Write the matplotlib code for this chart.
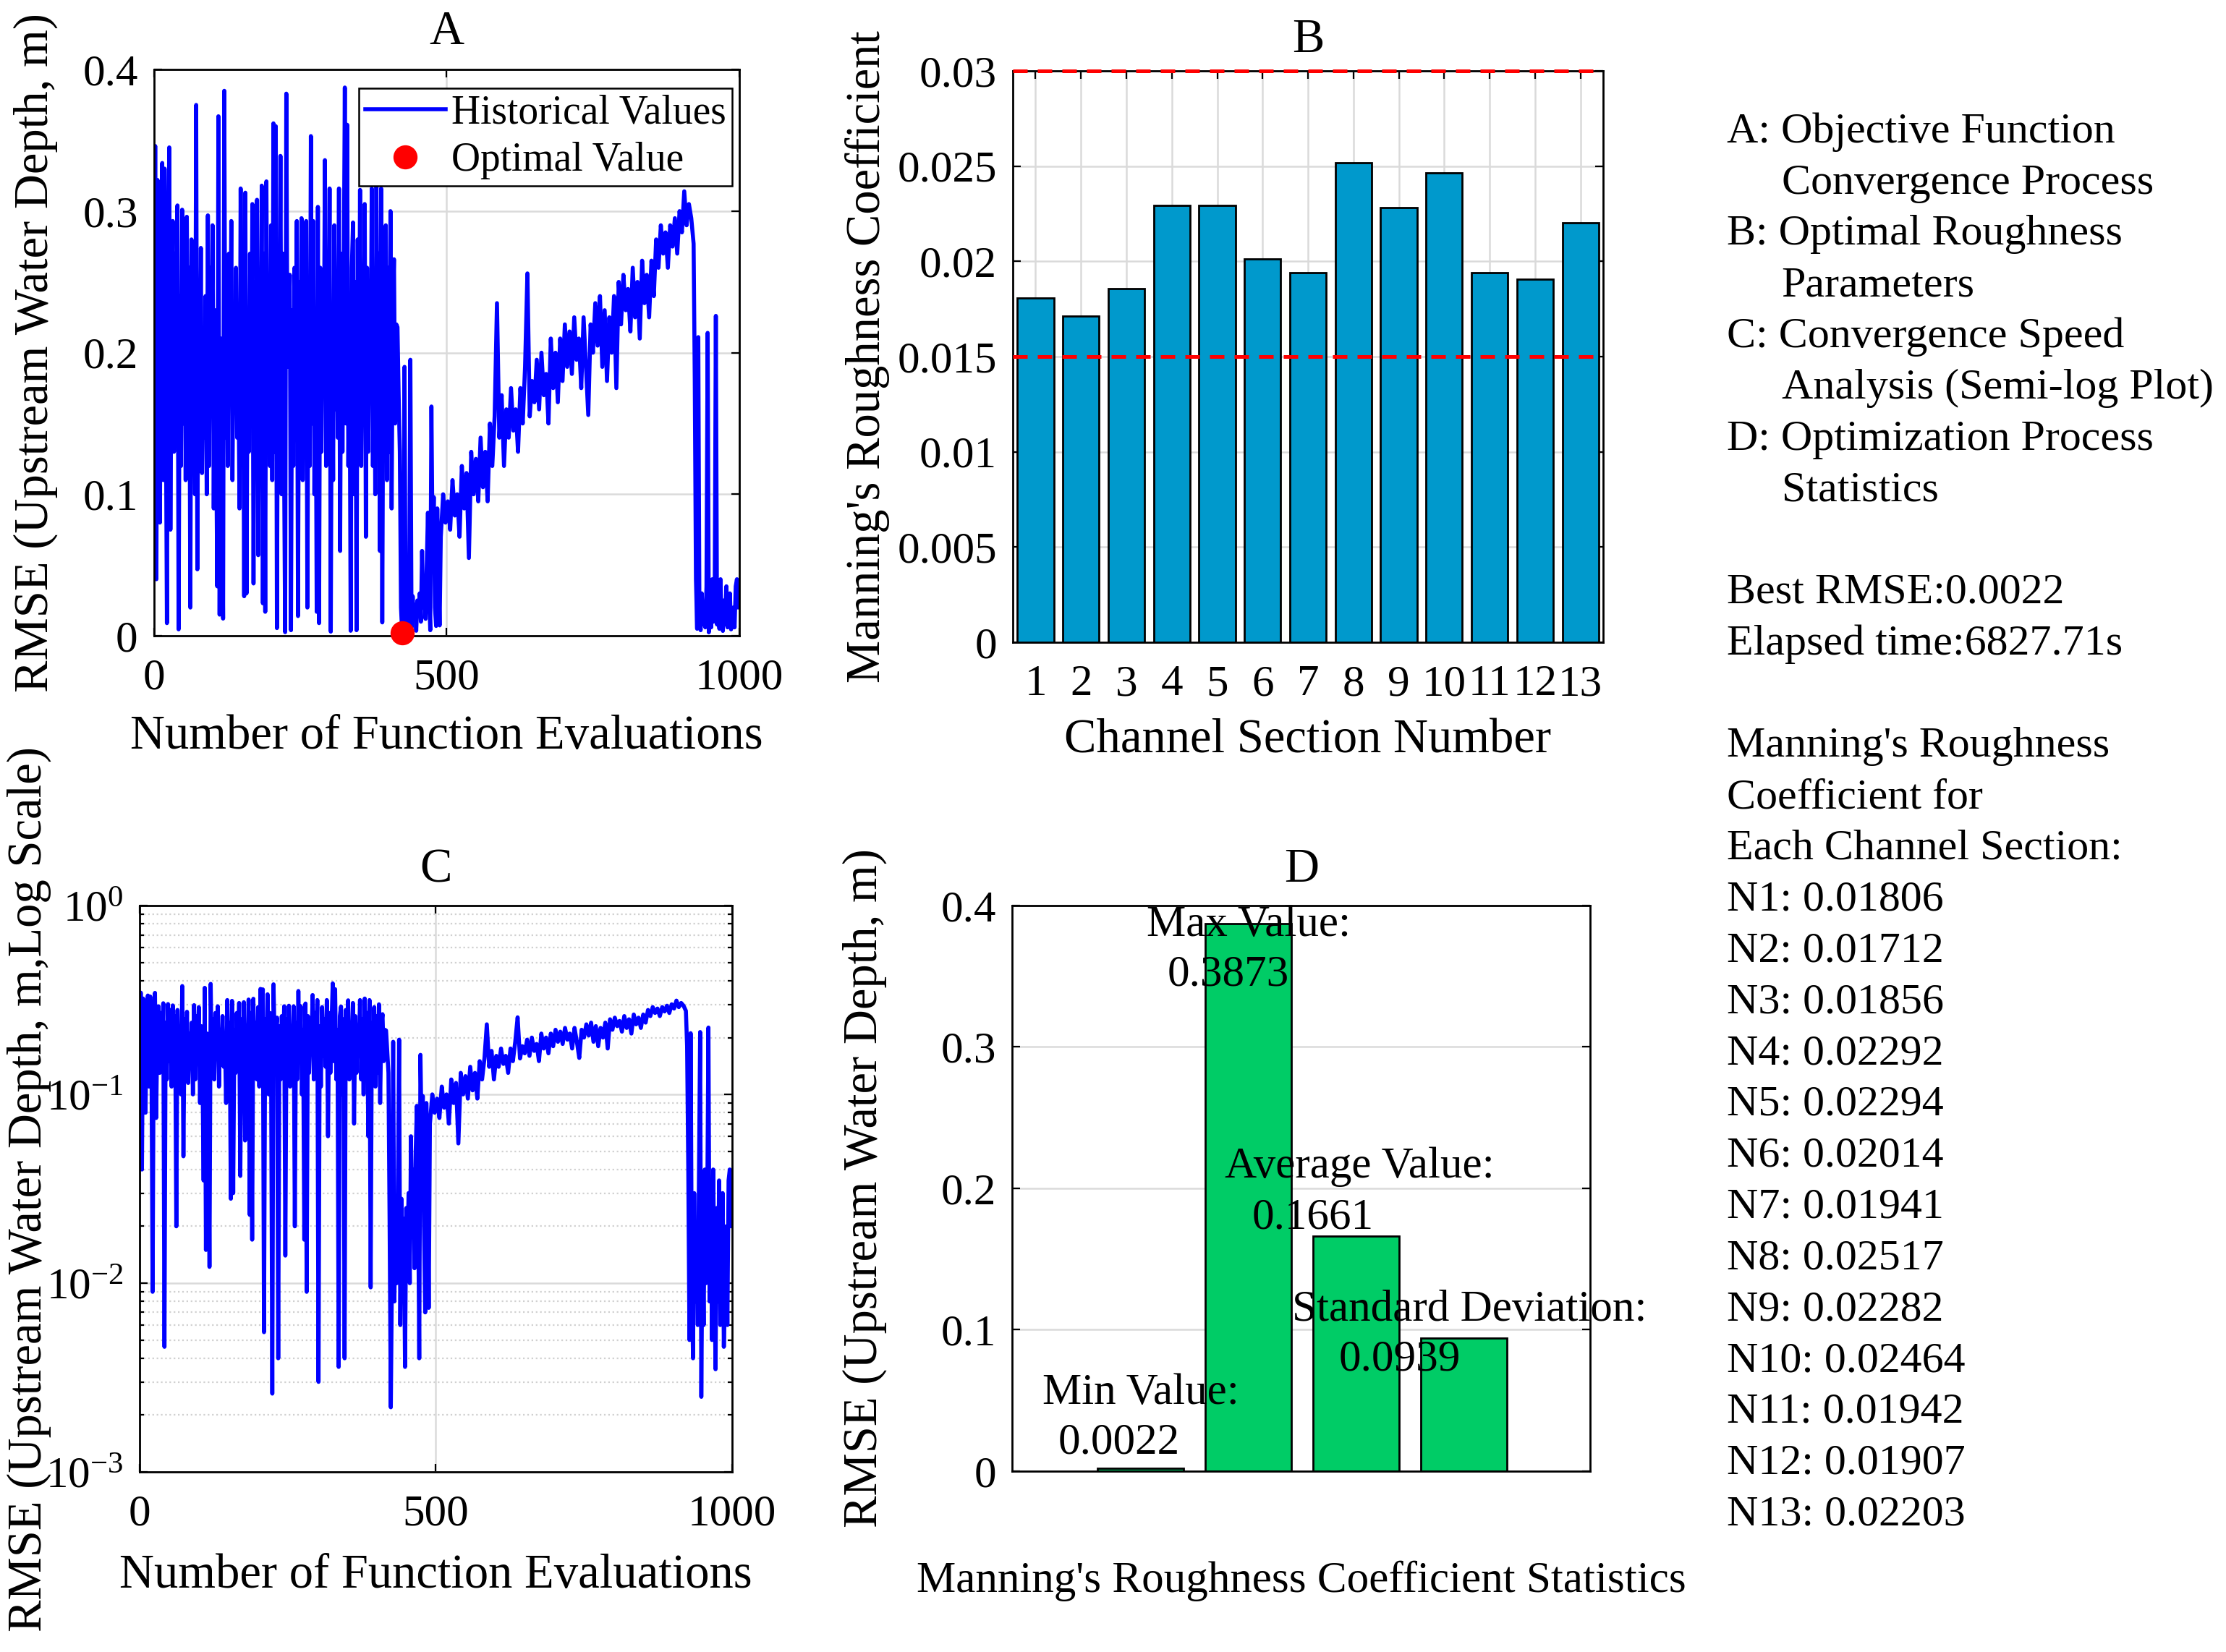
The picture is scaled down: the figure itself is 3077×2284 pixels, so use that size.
import numpy as np
import matplotlib
matplotlib.use('Agg')
from matplotlib import pyplot as plt
from matplotlib.ticker import FuncFormatter, MultipleLocator, LogLocator, NullFormatter

# objective function history, read off panel A / C
# evaluations 0..418 (every 2nd evaluation)
hist_noisy = [
    0.14, 0.346, 0.04, 0.322, 0.20, 0.08, 0.25, 0.334, 0.11, 0.33,
    0.18, 0.009, 0.26, 0.345, 0.075, 0.22, 0.293, 0.13, 0.27, 0.16,
    0.304, 0.0046, 0.24, 0.12, 0.301, 0.15, 0.28, 0.11, 0.296, 0.18,
    0.26, 0.02, 0.28, 0.13, 0.22, 0.10, 0.375, 0.047, 0.25, 0.16,
    0.274, 0.115, 0.21, 0.14, 0.24, 0.10, 0.297, 0.12, 0.26, 0.17,
    0.29, 0.09, 0.23, 0.15, 0.035, 0.367, 0.015, 0.21, 0.12, 0.0122,
    0.385, 0.14, 0.25, 0.12, 0.27, 0.18, 0.293, 0.11, 0.22, 0.16,
    0.26, 0.14, 0.20, 0.09, 0.316, 0.17, 0.24, 0.028, 0.313, 0.03,
    0.22, 0.13, 0.27, 0.15, 0.305, 0.037, 0.25, 0.12, 0.308, 0.057,
    0.23, 0.16, 0.318, 0.023, 0.27, 0.017, 0.321, 0.14, 0.24, 0.12,
    0.29, 0.11, 0.362, 0.13, 0.36, 0.0055, 0.25, 0.15, 0.339, 0.10,
    0.27, 0.14, 0.0026, 0.383, 0.19, 0.22, 0.255, 0.004, 0.23, 0.12,
    0.26, 0.15, 0.293, 0.014, 0.25, 0.13, 0.295, 0.11, 0.21, 0.16,
    0.293, 0.02, 0.24, 0.12, 0.353, 0.15, 0.293, 0.10, 0.22, 0.017,
    0.303, 0.009, 0.26, 0.13, 0.24, 0.18, 0.336, 0.12, 0.27, 0.15,
    0.316, 0.003, 0.23, 0.11, 0.29, 0.16, 0.25, 0.14, 0.316, 0.06,
    0.27, 0.13, 0.24, 0.3873, 0.15, 0.361, 0.12, 0.22, 0.0036, 0.26,
    0.292, 0.10, 0.25, 0.004, 0.28, 0.15, 0.315, 0.12, 0.24, 0.16,
    0.305, 0.07, 0.26, 0.13, 0.23, 0.17, 0.316, 0.12, 0.25, 0.10,
    0.322, 0.15, 0.27, 0.06, 0.316, 0.0095, 0.24, 0.14, 0.29, 0.11,
    0.26, 0.13, 0.30, 0.09, 0.23, 0.266, 0.15, 0.22, 0.218, 0.17,
]
# evaluations 420..488 (every 2nd)
hist_low = [
    0.13, 0.02, 0.0022, 0.012, 0.19, 0.008, 0.025, 0.01, 0.03, 0.195,
    0.006, 0.028, 0.012, 0.022, 0.0036, 0.025, 0.015, 0.03, 0.01, 0.06,
    0.02, 0.04, 0.012, 0.05, 0.087, 0.03, 0.004, 0.162, 0.06, 0.098,
    0.02, 0.007, 0.09, 0.05, 0.0074,
]
# evaluations 490..922 (every 4th)
hist_ramp = [
    0.07, 0.10, 0.08, 0.095, 0.075, 0.11, 0.085, 0.10, 0.07, 0.12,
    0.09, 0.115, 0.055, 0.13, 0.10, 0.125, 0.095, 0.14, 0.105, 0.13,
    0.095, 0.15, 0.12, 0.155, 0.235, 0.14, 0.17, 0.12, 0.16, 0.14,
    0.175, 0.145, 0.16, 0.13, 0.175, 0.15, 0.19, 0.256, 0.155, 0.18,
    0.165, 0.195, 0.16, 0.20, 0.17, 0.185, 0.15, 0.21, 0.175, 0.20,
    0.165, 0.21, 0.18, 0.22, 0.19, 0.215, 0.185, 0.225, 0.195, 0.21,
    0.175, 0.225, 0.19, 0.156, 0.22, 0.20, 0.235, 0.205, 0.24, 0.19,
    0.23, 0.18, 0.225, 0.20, 0.24, 0.175, 0.25, 0.22, 0.255, 0.23,
    0.245, 0.215, 0.26, 0.225, 0.25, 0.21, 0.265, 0.235, 0.255, 0.225,
    0.265, 0.24, 0.28, 0.26, 0.29, 0.27, 0.285, 0.26, 0.29, 0.275,
    0.295, 0.27, 0.30, 0.285, 0.314, 0.29, 0.305, 0.295, 0.277,
]
# evaluations 924..1000 (every 2nd)
hist_tail = [
    0.18, 0.04, 0.005, 0.211, 0.01, 0.004, 0.03, 0.008, 0.02, 0.006,
    0.035, 0.214, 0.0025, 0.02, 0.006, 0.04, 0.01, 0.025, 0.226, 0.008,
    0.03, 0.005, 0.04, 0.012, 0.0035, 0.025, 0.008, 0.035, 0.006, 0.015,
    0.03, 0.0046, 0.01, 0.02, 0.006, 0.035, 0.04, 0.02, 0.025,
]

# panel B: optimal Manning's n per channel section
sections = list(range(1, 14))
manning_n = [0.01806, 0.01712, 0.01856, 0.02292, 0.02294, 0.02014, 0.01941,
             0.02517, 0.02282, 0.02464, 0.01942, 0.01907, 0.02203]
n_lower, n_upper = 0.015, 0.03

# panel D: statistics of the process
stat_names = ['Min Value:', 'Max Value:', 'Average Value:', 'Standard Deviation:']
stat_values = [0.0022, 0.3873, 0.1661, 0.0939]

best_rmse = 0.0022
elapsed = 6827.71

evals = np.concatenate([np.arange(0, 420, 2), np.arange(420, 490, 2),
                        np.arange(490, 923, 4), np.arange(924, 1001, 2)])
hist = np.array(hist_noisy + hist_low + hist_ramp + hist_tail)
best = int(np.argmin(hist))

plt.rcParams['font.family'] = ['Liberation Serif', 'DejaVu Serif']
plt.rcParams['mathtext.fontset'] = 'custom'
plt.rcParams['mathtext.rm'] = 'Liberation Serif'
plt.rcParams['mathtext.it'] = 'Liberation Serif:italic'
plt.rcParams['font.size'] = 22

fig = plt.figure(figsize=(3077 / 200, 2284 / 200), dpi=200)

axA = fig.add_axes([0.0692, 0.6151, 0.2629, 0.3428])
axB = fig.add_axes([0.4550, 0.6112, 0.2652, 0.3459])
axC = fig.add_axes([0.0627, 0.1090, 0.2662, 0.3428])
axD = fig.add_axes([0.4547, 0.1095, 0.2597, 0.3424])

gfmt = FuncFormatter(lambda v, p: f'{v:g}')
LBL = 24


def style(ax):
    ax.tick_params(which='both', direction='in', top=True, right=True,
                   labelsize=22, width=0.8)
    ax.tick_params(axis='x', pad=11)
    ax.tick_params(axis='y', pad=8)
    ax.tick_params(which='major', length=4)
    ax.tick_params(which='minor', length=2)
    for s in ax.spines.values():
        s.set_linewidth(1.0)
    ax.set_axisbelow(True)


def labels(ax, title, xlab, ylab, tx, ly, ty, xsize=LBL):
    ax.set_xlabel(xlab, fontsize=xsize)
    ax.set_ylabel(ylab, fontsize=LBL)
    ax.xaxis.label.set_va('center')
    ax.yaxis.label.set_va('center')
    ax.xaxis.set_label_coords(0.5, tx)
    ax.yaxis.set_label_coords(ly, 0.5)
    ax.text(0.5, ty, title, transform=ax.transAxes, ha='center', va='center', fontsize=LBL)


# A
style(axA)
axA.grid(True, color='#dadada', linewidth=0.9)
axA.plot(evals, hist, color='blue', lw=2.0, label='Historical Values')
axA.plot(evals[best], hist[best], 'o', color='red', ms=11, clip_on=False, zorder=5,
         label='Optimal Value')
axA.set_xlim(0, 1000)
axA.set_ylim(0, 0.4)
axA.set_xticks([0, 500, 1000])
axA.set_yticks([0, 0.1, 0.2, 0.3, 0.4])
axA.yaxis.set_major_formatter(gfmt)
leg = axA.legend(loc='upper right', bbox_to_anchor=(0.988, 0.967), borderaxespad=0,
                 fancybox=False, framealpha=1, edgecolor='black', fontsize=20,
                 handlelength=2.0, labelspacing=0.25, borderpad=0.15, handletextpad=0.15)
leg.get_frame().set_linewidth(0.9)
labels(axA, 'A', 'Number of Function Evaluations', 'RMSE (Upstream Water Depth, m)',
       -0.178, -0.203, 1.066)

# B
style(axB)
axB.grid(True, color='#dadada', linewidth=0.9)
axB.bar(sections, manning_n, width=0.8, color='#0099cc', edgecolor='black', linewidth=1.0, zorder=2)
for lvl in (n_lower, n_upper):
    axB.axhline(lvl, color='red', linestyle=(0, (4, 2.8)), lw=1.8, zorder=4, clip_on=False)
axB.set_xlim(0.5, 13.5)
axB.set_ylim(0, 0.03)
axB.set_xticks(sections)
axB.yaxis.set_major_locator(MultipleLocator(0.005))
axB.yaxis.set_major_formatter(gfmt)
labels(axB, 'B', 'Channel Section Number', "Manning's Roughness Coefficient",
       -0.172, -0.246, 1.054)

# C
style(axC)
axC.semilogy(evals, hist, color='blue', lw=2.0)
axC.set_xlim(0, 1000)
axC.set_ylim(1e-3, 1)
axC.set_xticks([0, 500, 1000])
axC.yaxis.set_major_locator(LogLocator(base=10, numticks=10))
axC.yaxis.set_minor_locator(LogLocator(base=10, subs=np.arange(2, 10), numticks=20))
axC.yaxis.set_minor_formatter(NullFormatter())
axC.grid(True, which='major', color='#dadada', linewidth=0.9)
axC.grid(True, which='minor', axis='y', color='#d0d0d0', linewidth=0.8, linestyle=':')
labels(axC, 'C', 'Number of Function Evaluations', 'RMSE (Upstream Water Depth, m,Log Scale)',
       -0.183, -0.187, 1.063)

# D
style(axD)
axD.grid(True, axis='y', color='#dadada', linewidth=0.9)
stat_pos = np.arange(1, len(stat_values) + 1)
axD.bar(stat_pos, stat_values, width=0.8, color='#00cc66', edgecolor='black', linewidth=1.0, zorder=2)
axD.set_xlim(-0.19, 5.17)
axD.set_ylim(0, 0.4)
axD.set_xticks([])
axD.set_yticks([0, 0.1, 0.2, 0.3, 0.4])
axD.yaxis.set_major_formatter(gfmt)
# label placement: (line-1 dx, line-1 y, line-2 dx, line-2 y)
label_spots = [(0.0, 0.055, -0.20, 0.020), (0.0, 0.386, -0.19, 0.351),
               (0.03, 0.215, -0.40, 0.179), (0.05, 0.114, -0.60, 0.079)]
for xp, name, val, (d1, y1, d2, y2) in zip(stat_pos, stat_names, stat_values, label_spots):
    axD.text(xp + d1, y1, name, ha='center', va='center', fontsize=22, zorder=5)
    axD.text(xp + d2, y2, f'{val:.4f}', ha='center', va='center', fontsize=22, zorder=5)
labels(axD, 'D', "Manning's Roughness Coefficient Statistics", 'RMSE (Upstream Water Depth, m)',
       -0.194, -0.255, 1.063, xsize=22)

# side notes
info = [(0, 'A: Objective Function'), (1, 'Convergence Process'),
        (0, 'B: Optimal Roughness'), (1, 'Parameters'),
        (0, 'C: Convergence Speed'), (1, 'Analysis (Semi-log Plot)'),
        (0, 'D: Optimization Process'), (1, 'Statistics'),
        (0, ''),
        (0, f'Best RMSE:{best_rmse:.4f}'), (0, f'Elapsed time:{elapsed:.2f}s'),
        (0, ''),
        (0, "Manning's Roughness"), (0, 'Coefficient for'), (0, 'Each Channel Section:')]
info += [(0, f'N{i}: {v:.5f}') for i, v in zip(sections, manning_n)]
for k, (indent, line) in enumerate(info):
    fig.text(0.7758 + 0.0245 * indent, 0.920 - 0.0310 * k, line, ha='left', va='center', fontsize=21.6)

fig.savefig('out.png', dpi=200)
